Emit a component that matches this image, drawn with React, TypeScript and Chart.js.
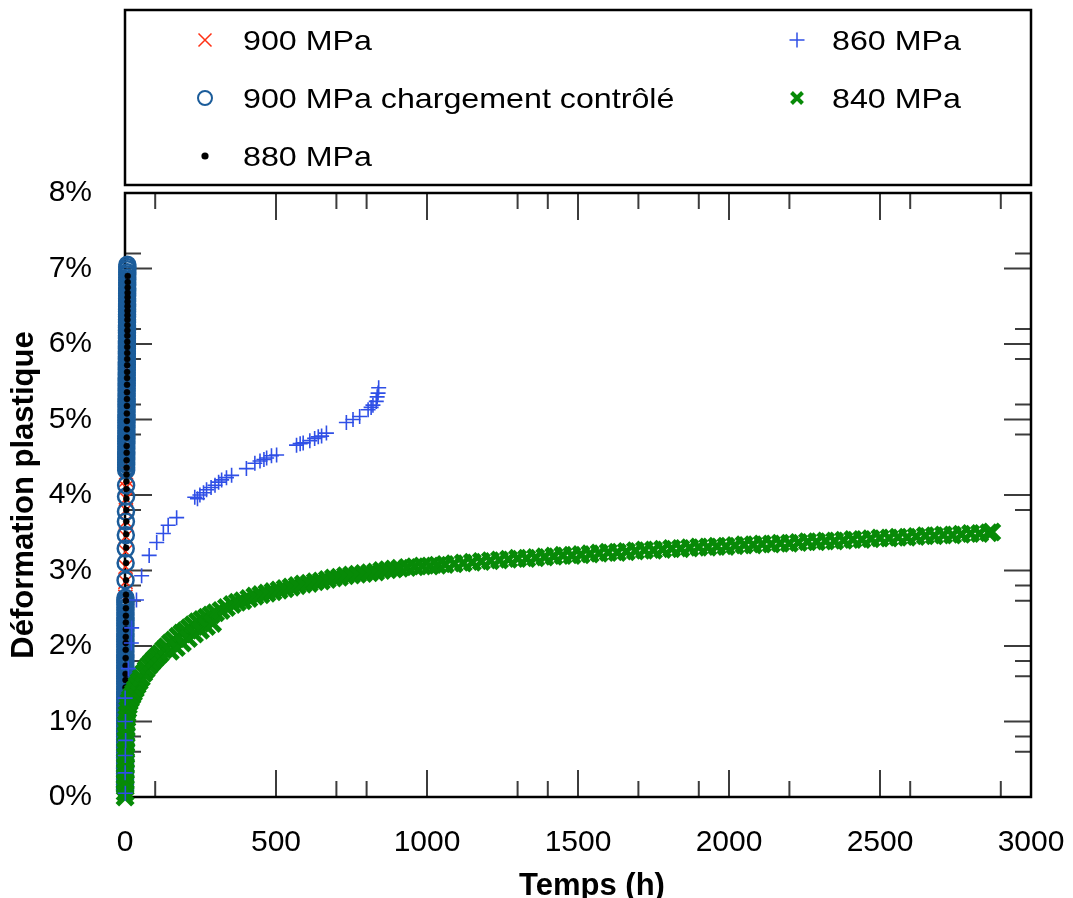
import React, { useEffect, useRef } from 'react';
import { Chart, registerables } from 'chart.js';

Chart.register(...registerables);

// ---------- axis ticks ----------
const xMajorTicks = [0, 500, 1000, 1500, 2000, 2500, 3000];
const xMinorTicks = [100, 700, 800, 1300, 1400, 1700, 1900, 2200, 2600, 2900];
const yMajorTicks = [0, 1, 2, 3, 4, 5, 6, 7, 8];
const yMinorTicks = [0.6, 0.8, 1.6, 1.8, 2.6, 2.8, 3.8, 4.8, 5.2, 5.8, 6.2, 7.2];

const xTitle = 'Temps (h)';
const yTitle = 'Déformation plastique';
const seriesNames = ['900 MPa', '900 MPa chargement contrôlé', '880 MPa', '860 MPa', '840 MPa'];

// ---------- data: [time (h), plastic strain (%)] ----------
const s900: [number, number][] = [
  [0.3, 0.5], [0.4, 0.8], [0.5, 1.1], [0.6, 1.3], [0.7, 1.5], [0.8, 1.7], [0.9, 1.9], [1.0, 2.1],
  [1.1, 2.3], [1.2, 2.5], [1.3, 2.65], [1.6, 2.85], [1.9, 3.05], [2.2, 3.25], [2.5, 3.45], [2.8, 3.65],
  [3.0, 3.8], [3.2, 3.95], [3.4, 4.1], [3.5, 4.2], [3.6, 4.3], [3.7, 4.42], [3.8, 4.52], [3.9, 4.63],
  [4.0, 4.74], [4.1, 4.85], [4.2, 4.95], [4.3, 5.06], [4.4, 5.17], [4.5, 5.27], [4.6, 5.38], [4.7, 5.48],
  [4.8, 5.58], [4.9, 5.68], [5.0, 5.78], [5.1, 5.88], [5.2, 5.98], [5.3, 6.08], [5.4, 6.18], [5.5, 6.3],
  [5.6, 6.42], [5.7, 6.55],
];

const s900ctrl: [number, number][] = [
  [0.1, 0.10], [0.1, 0.13], [0.1, 0.17], [0.1, 0.20], [0.2, 0.24], [0.2, 0.27], [0.2, 0.31], [0.2, 0.34],
  [0.2, 0.38], [0.3, 0.41], [0.3, 0.45], [0.3, 0.48], [0.3, 0.52], [0.3, 0.55], [0.4, 0.59], [0.4, 0.62],
  [0.4, 0.66], [0.4, 0.69], [0.4, 0.73], [0.5, 0.76], [0.5, 0.80], [0.5, 0.83], [0.5, 0.87], [0.5, 0.90],
  [0.6, 0.94], [0.6, 0.97], [0.6, 1.01], [0.6, 1.04], [0.6, 1.08], [0.7, 1.11], [0.7, 1.15], [0.7, 1.18],
  [0.7, 1.22], [0.7, 1.25], [0.8, 1.29], [0.8, 1.32], [0.8, 1.36], [0.8, 1.39], [0.8, 1.43], [0.9, 1.46],
  [0.9, 1.50], [0.9, 1.53], [0.9, 1.57], [0.9, 1.60], [1.0, 1.64], [1.0, 1.67], [1.0, 1.71], [1.0, 1.74],
  [1.0, 1.78], [1.1, 1.81], [1.1, 1.85], [1.1, 1.88], [1.1, 1.92], [1.1, 1.95], [1.2, 1.99], [1.2, 2.02],
  [1.2, 2.06], [1.2, 2.09], [1.2, 2.13], [1.3, 2.16], [1.3, 2.20], [1.3, 2.23], [1.3, 2.27], [1.3, 2.30],
  [1.4, 2.34], [1.4, 2.37], [1.4, 2.41], [1.4, 2.44], [1.4, 2.48], [1.5, 2.51], [1.5, 2.55], [1.5, 2.58],
  [1.5, 2.61], [1.5, 2.64],
  [1.8, 2.87], [2.1, 3.10], [2.4, 3.29], [2.7, 3.47], [3.0, 3.65], [3.2, 3.78], [3.5, 3.98], [3.7, 4.13],
  [3.9, 4.33], [3.9, 4.36], [4.0, 4.40], [4.0, 4.43], [4.1, 4.47], [4.1, 4.50], [4.2, 4.54], [4.2, 4.57],
  [4.3, 4.61], [4.3, 4.64], [4.4, 4.68], [4.4, 4.71], [4.5, 4.75], [4.5, 4.78], [4.6, 4.82], [4.6, 4.85],
  [4.7, 4.89], [4.7, 4.92], [4.8, 4.96], [4.8, 4.99], [4.9, 5.03], [4.9, 5.06], [5.0, 5.10], [5.0, 5.13],
  [5.1, 5.17], [5.1, 5.20], [5.2, 5.24], [5.2, 5.27], [5.3, 5.31], [5.3, 5.34], [5.4, 5.38], [5.4, 5.41],
  [5.5, 5.45], [5.5, 5.48], [5.6, 5.52], [5.6, 5.55], [5.7, 5.59], [5.7, 5.62], [5.8, 5.66], [5.8, 5.69],
  [5.9, 5.73], [5.9, 5.76], [6.0, 5.80], [6.0, 5.83], [6.1, 5.87], [6.1, 5.90], [6.2, 5.94], [6.2, 5.97],
  [6.3, 6.01], [6.3, 6.04], [6.4, 6.08], [6.4, 6.11], [6.5, 6.15], [6.5, 6.18], [6.6, 6.22], [6.6, 6.25],
  [6.7, 6.29], [6.7, 6.32], [6.8, 6.36], [6.8, 6.39], [6.9, 6.43], [6.9, 6.46], [7.0, 6.50], [7.0, 6.53],
  [7.1, 6.57], [7.1, 6.60], [7.2, 6.64], [7.2, 6.67], [7.3, 6.71], [7.3, 6.74], [7.4, 6.78], [7.4, 6.81],
  [7.5, 6.85], [7.5, 6.88], [7.6, 6.92], [7.6, 6.95], [7.7, 6.99], [7.7, 7.02], [7.8, 7.05],
];

const s880: [number, number][] = [
  [1.0, 1.00], [1.2, 1.12], [1.4, 1.25], [1.5, 1.34], [1.6, 1.45], [1.7, 1.55], [1.8, 1.63], [2.0, 1.74],
  [2.1, 1.84], [2.3, 1.95], [2.4, 2.04], [2.5, 2.12], [2.7, 2.22], [2.8, 2.31], [2.9, 2.40], [3.1, 2.50],
  [3.2, 2.60], [3.3, 2.68],
  [3.5, 2.87], [3.7, 3.10], [3.9, 3.30], [4.1, 3.48], [4.3, 3.65], [4.5, 3.80], [4.7, 3.95], [4.9, 4.08],
  [5.0, 4.18], [5.1, 4.27], [5.2, 4.36], [5.4, 4.46], [5.5, 4.56], [5.6, 4.65], [5.8, 4.76], [5.9, 4.87],
  [6.1, 4.98], [6.2, 5.08], [6.4, 5.18], [6.5, 5.27], [6.6, 5.36], [6.8, 5.46], [6.9, 5.55], [7.0, 5.63],
  [7.2, 5.72], [7.3, 5.80], [7.4, 5.88], [7.5, 5.96], [7.6, 6.03], [7.8, 6.11], [7.9, 6.18], [8.0, 6.25],
  [8.1, 6.32], [8.2, 6.38], [8.3, 6.44], [8.4, 6.50], [8.5, 6.56], [8.6, 6.62], [8.7, 6.68], [8.8, 6.75],
  [9.0, 6.82], [9.1, 6.90],
];

const s860: [number, number][] = [
  [1, 0.05], [0.5, 0.32], [1, 0.55], [2, 0.75], [1.5, 1.0], [0.5, 1.31], [11, 1.7], [21, 2.04],
  [22, 2.24], [38, 2.61], [55, 2.93], [80, 3.2], [105, 3.37], [127, 3.49], [143, 3.6], [171, 3.7],
  [231, 3.97], [240, 3.95], [248, 4.0], [260, 4.03], [270, 4.07], [285, 4.1], [298, 4.13], [310, 4.17],
  [320, 4.2], [336, 4.23], [353, 4.26], [402, 4.35], [430, 4.42], [447, 4.45], [460, 4.47], [469, 4.49],
  [485, 4.52], [502, 4.53], [568, 4.66], [580, 4.68], [590, 4.69], [612, 4.72], [628, 4.75], [640, 4.77],
  [651, 4.78], [667, 4.82], [733, 4.96], [755, 5.0], [777, 5.04], [805, 5.13], [815, 5.16], [821, 5.19],
  [832, 5.24], [835, 5.3], [838, 5.35], [840, 5.42],
];

const s840: [number, number][] = [
  [0.3, 0.0], [0.5, 0.06], [0.8, 0.13], [1, 0.2], [1.2, 0.27], [1.5, 0.34], [1.8, 0.41], [2, 0.48],
  [2.3, 0.55], [2.6, 0.62], [3, 0.69], [3.4, 0.76], [3.8, 0.83], [4.3, 0.9], [5, 0.97], [6, 1.04],
  [7, 1.1], [9, 1.16], [11, 1.21], [14, 1.26], [18, 1.3], [23, 1.34], [28, 1.38], [34, 1.43],
  [40, 1.48], [47, 1.53], [54, 1.58], [62, 1.64], [70, 1.69], [79, 1.74], [88, 1.78], [97, 1.82],
  [107, 1.86], [117, 1.9], [128, 1.95], [138, 1.99], [150, 2.04], [162, 2.08], [175, 2.13], [188, 2.17],
  [200, 2.2], [213, 2.24], [226, 2.28], [240, 2.32], [255, 2.35], [270, 2.38], [285, 2.41], [300, 2.44],
  [150, 1.93], [170, 1.98], [190, 2.04], [210, 2.1], [230, 2.16], [250, 2.21], [270, 2.26], [290, 2.3],
  [318, 2.47], [336, 2.51], [355, 2.55], [372, 2.58], [390, 2.6], [410, 2.63], [430, 2.66], [450, 2.68],
  [470, 2.7], [490, 2.72], [510, 2.74], [530, 2.76], [550, 2.78], [570, 2.8], [590, 2.82], [610, 2.83],
  [630, 2.85], [650, 2.86], [670, 2.88], [690, 2.9], [710, 2.91], [730, 2.93], [750, 2.94], [770, 2.95],
  [790, 2.96], [810, 2.97], [830, 2.98], [850, 3.0], [870, 3.01], [890, 3.02], [910, 3.03], [935, 3.04],
  [960, 3.05], [985, 3.06], [1010, 3.06], [1035, 3.07], [1060, 3.08], [1090, 3.09], [1120, 3.1], [1150, 3.11],
  [1180, 3.12], [1210, 3.13], [1240, 3.14], [1270, 3.15], [1300, 3.16], [1330, 3.16], [1360, 3.17], [1390, 3.18],
  [1420, 3.19], [1450, 3.2], [1480, 3.2], [1510, 3.21], [1540, 3.22], [1570, 3.23], [1600, 3.24], [1630, 3.24],
  [1660, 3.25], [1690, 3.26], [1720, 3.27], [1750, 3.27], [1780, 3.28], [1810, 3.29], [1840, 3.29], [1870, 3.3],
  [1900, 3.31], [1930, 3.31], [1960, 3.32], [1990, 3.32], [2020, 3.33], [2050, 3.34], [2080, 3.34], [2110, 3.35],
  [2140, 3.35], [2170, 3.36], [2200, 3.36], [2230, 3.37], [2260, 3.38], [2290, 3.38], [2320, 3.39], [2350, 3.39],
  [2380, 3.4], [2410, 3.41], [2440, 3.41], [2470, 3.42], [2500, 3.43], [2530, 3.43], [2560, 3.44], [2590, 3.44],
  [2620, 3.45], [2650, 3.46], [2680, 3.46], [2710, 3.47], [2740, 3.47], [2770, 3.48], [2800, 3.49], [2830, 3.49],
  [2860, 3.5], [2870, 3.51],
];

const FONT = '"Liberation Sans", Arial, Helvetica, sans-serif';

function drawMarker(ctx: CanvasRenderingContext2D, style: string, x: number, y: number, r: number, lw: number, color: string) {
  ctx.save();
  ctx.strokeStyle = color;
  ctx.fillStyle = color;
  ctx.lineWidth = lw;
  ctx.beginPath();
  if (style === 'crossRot') {
    ctx.moveTo(x - r, y - r); ctx.lineTo(x + r, y + r);
    ctx.moveTo(x - r, y + r); ctx.lineTo(x + r, y - r);
    ctx.stroke();
  } else if (style === 'cross') {
    ctx.moveTo(x - r, y); ctx.lineTo(x + r, y);
    ctx.moveTo(x, y - r); ctx.lineTo(x, y + r);
    ctx.stroke();
  } else if (style === 'ring') {
    ctx.arc(x, y, r, 0, Math.PI * 2);
    ctx.stroke();
  } else {
    ctx.arc(x, y, r, 0, Math.PI * 2);
    ctx.fill();
  }
  ctx.restore();
}

const framePlugin = {
  id: 'frameTicks',
  beforeDatasetsDraw(chart: any) {
    const { ctx, chartArea: a, scales } = chart;
    const xs = scales.x, ys = scales.y;
    ctx.save();
    ctx.strokeStyle = '#3c3c3c';
    ctx.lineWidth = 2;
    const xt = (v: number, len: number) => {
      const px = xs.getPixelForValue(v);
      ctx.beginPath();
      ctx.moveTo(px, a.bottom); ctx.lineTo(px, a.bottom - len);
      ctx.moveTo(px, a.top); ctx.lineTo(px, a.top + len);
      ctx.stroke();
    };
    const yt = (v: number, len: number) => {
      const py = ys.getPixelForValue(v);
      ctx.beginPath();
      ctx.moveTo(a.left, py); ctx.lineTo(a.left + len, py);
      ctx.moveTo(a.right, py); ctx.lineTo(a.right - len, py);
      ctx.stroke();
    };
    xMajorTicks.forEach((v) => xt(v, 27));
    xMinorTicks.forEach((v) => xt(v, 16));
    yMajorTicks.forEach((v) => yt(v, 27));
    yMinorTicks.forEach((v) => yt(v, 16));
    ctx.strokeStyle = '#000';
    ctx.lineWidth = 2.5;
    ctx.strokeRect(a.left, a.top, a.right - a.left, a.bottom - a.top);
    ctx.restore();
  },
  afterDraw(chart: any) {
    const { ctx, chartArea: a } = chart;
    ctx.save();
    // legend box
    ctx.strokeStyle = '#000';
    ctx.lineWidth = 2.5;
    ctx.strokeRect(a.left, 10, a.right - a.left, 175);
    const entries = [
      { ds: 0, col: 0, row: 0, style: 'crossRot', r: 6.5, lw: 1.5 },
      { ds: 1, col: 0, row: 1, style: 'ring', r: 7, lw: 2 },
      { ds: 2, col: 0, row: 2, style: 'dot', r: 3.6, lw: 1 },
      { ds: 3, col: 1, row: 0, style: 'cross', r: 7.5, lw: 1.5 },
      { ds: 4, col: 1, row: 1, style: 'crossRot', r: 5.5, lw: 4 },
    ];
    const markerX = [205, 797];
    const textX = [243, 832];
    const rowY = [40, 98, 156];
    ctx.font = '28px ' + FONT;
    ctx.fillStyle = '#000';
    ctx.textAlign = 'left';
    ctx.textBaseline = 'alphabetic';
    entries.forEach((e) => {
      const ds = chart.data.datasets[e.ds];
      const y = rowY[e.row];
      drawMarker(ctx, e.style, markerX[e.col], y, e.r, e.lw, ds.borderColor);
      ctx.save();
      ctx.translate(textX[e.col], y + 10);
      ctx.scale(1.15, 1);
      ctx.fillText(seriesNames[e.ds], 0, 0);
      ctx.restore();
    });
    // x-axis title
    ctx.font = 'bold 31px ' + FONT;
    ctx.textAlign = 'center';
    ctx.fillText(xTitle, 592, 895);
    ctx.restore();
  },
};

export default function App() {
  const ref = useRef<HTMLCanvasElement>(null);
  useEffect(() => {
    const pts = (arr: [number, number][]) => arr.map(([x, y]) => ({ x, y }));
    const chart = new Chart(ref.current!, {
      type: 'scatter',
      data: {
        datasets: [
          {
            label: seriesNames[0], data: pts(s900), pointStyle: 'crossRot', pointRadius: 10,
            borderColor: 'rgb(255,48,20)', backgroundColor: 'rgb(255,48,20)', borderWidth: 1.5, order: 4, clip: false,
          },
          {
            label: seriesNames[1], data: pts(s900ctrl), pointStyle: 'circle', pointRadius: 8,
            borderColor: '#1b5c9a', backgroundColor: 'rgba(0,0,0,0)', borderWidth: 2.5, order: 3, clip: false,
          },
          {
            label: seriesNames[2], data: pts(s880), pointStyle: 'circle', pointRadius: 3,
            borderColor: '#000', backgroundColor: '#000', borderWidth: 0.5, order: 2, clip: false,
          },
          {
            label: seriesNames[3], data: pts(s860), pointStyle: 'cross', pointRadius: 7.5,
            borderColor: '#2f4fe6', backgroundColor: '#2f4fe6', borderWidth: 1.6, order: 0, clip: false,
          },
          {
            label: seriesNames[4], data: pts(s840), pointStyle: 'crossRot', pointRadius: 11,
            borderColor: '#078a07', backgroundColor: '#078a07', borderWidth: 5, order: 1, clip: false,
          },
        ] as any,
      },
      options: {
        animation: false,
        responsive: true,
        maintainAspectRatio: false,
        events: [],
        layout: { padding: { left: 0, top: 193, right: 42, bottom: 0 } },
        plugins: { legend: { display: false }, tooltip: { enabled: false }, title: { display: false } },
        scales: {
          x: {
            type: 'linear', min: 0, max: 3000,
            grid: { display: false, drawTicks: false }, border: { display: false },
            ticks: {
              stepSize: 500, autoSkip: false, maxRotation: 0, padding: 28, color: '#000',
              font: { family: FONT, size: 30 }, callback: (v: any) => String(v),
            },
            afterFit: (s: any) => { s.height = 101; s.paddingLeft = 0; s.paddingRight = 0; },
          },
          y: {
            type: 'linear', min: 0, max: 8,
            grid: { display: false, drawTicks: false }, border: { display: false },
            ticks: { stepSize: 1, autoSkip: false, padding: 33, color: '#000', font: { family: FONT, size: 30 }, callback: (v: any) => v + '%' },
            title: { display: true, text: yTitle, color: '#000', font: { family: FONT, size: 31, weight: 'bold' }, padding: { top: 6, bottom: 0 } },
            afterFit: (s: any) => { s.width = 125; s.paddingTop = 0; s.paddingBottom = 0; },
          },
        } as any,
      },
      plugins: [framePlugin],
    });
    return () => chart.destroy();
  }, []);
  return (
    <div style={{ position: 'fixed', left: 0, top: 0, width: 1073, height: 898, background: '#fff' }}>
      <canvas ref={ref} />
    </div>
  );
}
